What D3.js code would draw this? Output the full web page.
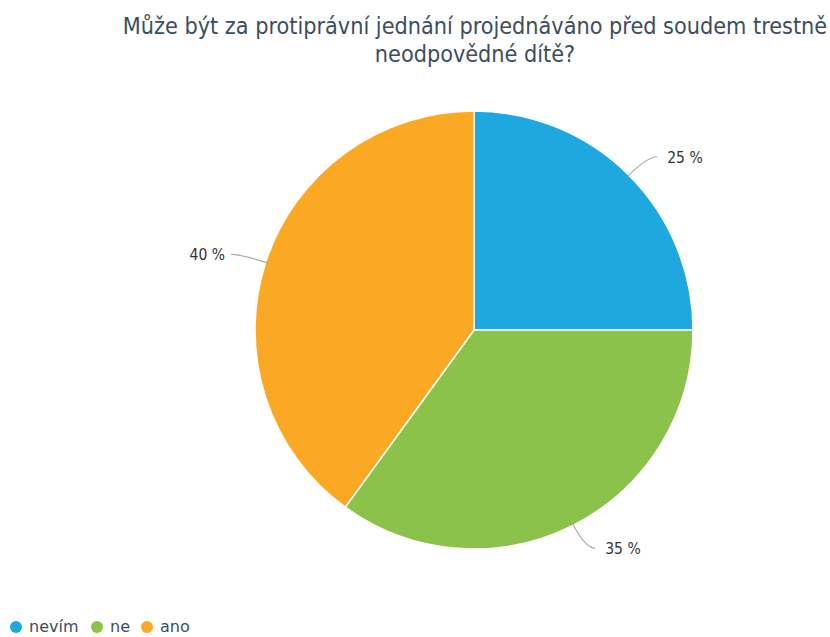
<!DOCTYPE html>
<html>
<head>
<meta charset="utf-8">
<script src="https://cdn.jsdelivr.net/npm/d3@7"></script>
<style>
  body { margin: 0; background: #fff; }
  svg { display: block; font-family: "DejaVu Sans", Verdana, sans-serif; }
</style>
</head>
<body>
<svg id="chart" width="830" height="637"></svg>
<script>
var categories = ["nevím", "ne", "ano"];
var values = [25, 35, 40];
var colors = ["#1fa8e0", "#8bc34a", "#fba925"];
var titleLines = ["Může být za protiprávní jednání projednáváno před soudem trestně", "neodpovědné dítě?"];

var svg = d3.select("#chart"),
    cx = 474, cy = 330, radius = 219;

// title
svg.append("g").selectAll("text")
  .data(titleLines)
  .enter().append("text")
    .attr("x", 475)
    .attr("y", function(d, i) { return 34 + i * 28; })
    .attr("text-anchor", "middle")
    .style("font-family", "'DejaVu Sans Condensed', 'DejaVu Sans', sans-serif")
    .style("font-size", "23.2px")
    .style("fill", "#3b4d63")
    .text(function(d) { return d; });

var pie = d3.pie().sort(null).value(function(d) { return d; });
var arcs = pie(values);

var arc = d3.arc().innerRadius(0).outerRadius(radius);

var g = svg.append("g").attr("transform", "translate(" + cx + "," + cy + ")");

g.selectAll("path.slice")
  .data(arcs)
  .enter().append("path")
    .attr("class", "slice")
    .attr("d", arc)
    .style("fill", function(d, i) { return colors[i]; })
    .style("stroke", "#fff")
    .style("stroke-width", 1.5);

// leader lines + labels
function pt(a, r) { return [Math.sin(a) * r, -Math.cos(a) * r]; }

arcs.forEach(function(d) {
  var mid = (d.startAngle + d.endAngle) / 2,
      p0 = pt(mid, radius - 2),
      p1 = pt(mid, radius + 26),
      right = Math.sin(mid) >= 0,
      p2 = [p1[0] + (right ? 10 : -10), p1[1]];
  g.append("path")
    .attr("d", "M" + p0 + "Q" + p1 + " " + p2)
    .style("fill", "none")
    .style("stroke", "#aaa")
    .style("stroke-width", 1.2);
  g.append("text")
    .attr("x", p2[0] + (right ? 10 : -6))
    .attr("y", p2[1] + 6)
    .attr("text-anchor", right ? "start" : "end")
    .style("font-family", "'DejaVu Sans Condensed', 'DejaVu Sans', sans-serif")
    .style("font-size", "15.5px")
    .style("fill", "#333")
    .text(d.data + " %");
});

// legend
var legendX = [16, 97, 147];
var legend = svg.append("g").selectAll("g")
  .data(categories)
  .enter().append("g")
    .attr("transform", function(d, i) { return "translate(" + legendX[i] + ",627)"; });
legend.append("circle")
  .attr("r", 6)
  .style("fill", function(d, i) { return colors[i]; });
legend.append("text")
  .attr("x", 13)
  .attr("y", 5)
  .style("font-size", "16px")
  .style("fill", "#3b4d63")
  .text(function(d) { return d; });
</script>
</body>
</html>
